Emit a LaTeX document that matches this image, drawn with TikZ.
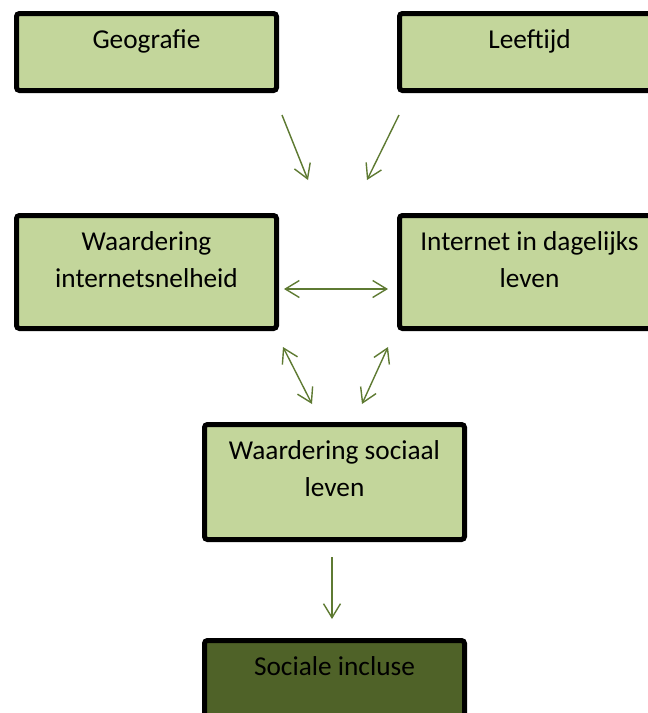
\documentclass[tikz,border=0pt]{standalone}
\usepackage{fontspec}
\setmainfont{Carlito}
\usepackage{tikz}
\usetikzlibrary{arrows.meta,positioning,calc}

\definecolor{lichtgroen}{HTML}{C3D69B}
\definecolor{donkergroen}{HTML}{4F6228}
\definecolor{pijlgroen}{HTML}{5E7A32}

% box content: fixed height, text at the top
\newcommand{\vaktekst}[2]{\parbox[t][#1][t]{250pt}{\centering\rule{0pt}{34.5pt}#2}}

\begin{document}
\begin{tikzpicture}[x=1pt,y=1pt,
  font=\fontsize{27.3}{37}\selectfont,
  vak/.style={draw=black,line width=5pt,rounded corners=3pt,fill=lichtgroen,
    minimum width=260pt,inner sep=0pt},
  pijl/.style={draw=pijlgroen,line width=1.4pt,-{Straight Barb[length=14pt,width=17pt]}},
  dpijl/.style={pijl,{Straight Barb[length=14pt,width=17pt]}-{Straight Barb[length=14pt,width=17pt]}}]
  \useasboundingbox (0,0) rectangle (648,-713);
  \clip (0,0) rectangle (648,-713);
  % top row
  \node[vak] (geo) at (146.5,-52) {\vaktekst{77pt}{Geografie}};
  \node[vak,right=118pt of geo] (leef) {\vaktekst{77pt}{Leeftijd}};
  % middle row
  \node[vak,below=120pt of geo] (wis) {\vaktekst{113pt}{Waardering\\internetsnelheid}};
  \node[vak,right=118pt of wis] (dag) {\vaktekst{113pt}{Internet in dagelijks\\leven}};
  % bottom
  \node[vak] (soc) at (334.5,-482) {\vaktekst{115pt}{Waardering sociaal\\leven}};
  \node[vak,below=96pt of soc,fill=donkergroen] (incl) {\vaktekst{113pt}{Sociale incluse}};
  % arrow ends
  \coordinate (g1) at (282,-115);  \coordinate (g2) at (308,-180);
  \coordinate (l1) at (399,-115);  \coordinate (l2) at (367,-180);
  \coordinate (h1) at (284,-289);  \coordinate (h2) at (388,-289);
  \coordinate (w1) at (283,-347);  \coordinate (w2) at (312,-404);
  \coordinate (d1) at (388,-347);  \coordinate (d2) at (362,-404);
  \coordinate (s1) at (332,-557);  \coordinate (s2) at (332,-619);
  \draw[pijl] (g1) -- (g2);
  \draw[pijl] (l1) -- (l2);
  \draw[dpijl] (h1) -- (h2);
  \draw[dpijl] (w1) -- (w2);
  \draw[dpijl] (d1) -- (d2);
  \draw[pijl] (s1) -- (s2);
\end{tikzpicture}
\end{document}
